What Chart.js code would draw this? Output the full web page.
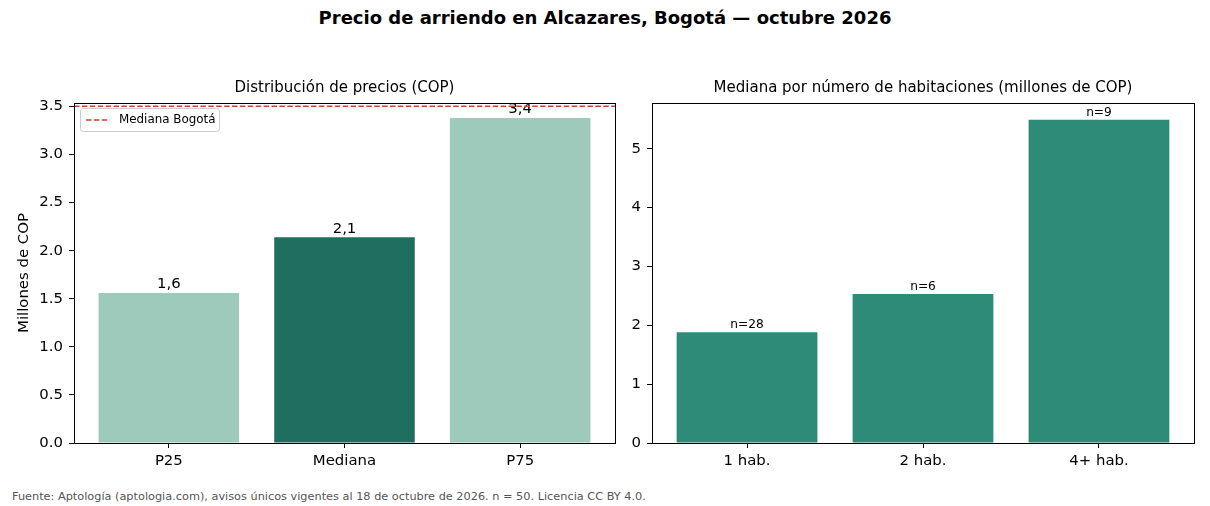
<!DOCTYPE html>
<html><head><meta charset="utf-8">
<script src="https://cdn.jsdelivr.net/npm/chart.js@4"></script>
<style>
html,body{margin:0;padding:0;background:#fff;width:1210px;height:506px;overflow:hidden;font-family:"DejaVu Sans",sans-serif;}
#title{position:absolute;left:0;top:7px;width:1210px;text-align:center;font-weight:bold;font-size:18px;color:#000;}
#foot{position:absolute;left:12px;top:490px;font-size:11.3px;color:#555;white-space:nowrap;}
canvas{position:absolute;top:0;}
#c1{left:0;}
#c2{left:620px;}
</style></head>
<body>
<div id="title">Precio de arriendo en Alcazares, Bogotá — octubre 2026</div>
<canvas id="c1" width="620" height="480"></canvas>
<canvas id="c2" width="590" height="480"></canvas>
<div id="foot">Fuente: Aptología (aptologia.com), avisos únicos vigentes al 18 de octubre de 2026. n = 50. Licencia CC BY 4.0.</div>
<script>
// ---- data ----
const pctCategories = ['P25', 'Mediana', 'P75'];
const pctValues = [1.56, 2.14, 3.38];
const pctLabels = ['1,6', '2,1', '3,4'];
const bogotaMedian = 3.5;
const bogotaLabel = 'Mediana Bogotá';
const roomCategories = ['1 hab.', '2 hab.', '4+ hab.'];
const roomMedians = [1.88, 2.53, 5.49];
const roomCounts = [28, 6, 9];

const leftTitle = 'Distribución de precios (COP)';
const rightTitle = 'Mediana por número de habitaciones (millones de COP)';
const yAxisTitle = 'Millones de COP';

// ---- styles ----
const FONT = '"DejaVu Sans", sans-serif';
const TICK = 14.9;
const lightTeal = '#9ecabc';
const darkTeal = '#1f6e5f';
const midTeal = '#2e8b77';
const redLine = '#c4463a';

Chart.defaults.font.family = FONT;
Chart.defaults.color = '#000';
Chart.defaults.animation = false;

function framePlugin(subtitle, labelFn, labelFont) {
  return {
    id: 'deco',
    afterDatasetsDraw(chart) {
      const ctx = chart.ctx;
      const meta = chart.getDatasetMeta(0);
      ctx.save();
      ctx.fillStyle = '#000';
      ctx.font = labelFont;
      ctx.textAlign = 'center';
      ctx.textBaseline = 'bottom';
      meta.data.forEach((bar, i) => {
        ctx.fillText(labelFn(i), bar.x, bar.y - 1);
      });
      ctx.restore();
    },
    afterDraw(chart) {
      const ctx = chart.ctx, a = chart.chartArea;
      ctx.save();
      ctx.strokeStyle = '#000';
      ctx.lineWidth = 1;
      ctx.strokeRect(Math.round(a.left) + 0.5, Math.round(a.top) + 0.5, Math.round(a.right - a.left), Math.round(a.bottom - a.top));
      ctx.fillStyle = '#000';
      ctx.font = '15px ' + FONT;
      ctx.textAlign = 'center';
      ctx.textBaseline = 'middle';
      ctx.fillText(subtitle, (a.left + a.right) / 2, 88);
      ctx.restore();
    }
  };
}

const medianPlugin = {
  id: 'median',
  afterDatasetsDraw(chart) {
    const ctx = chart.ctx, a = chart.chartArea;
    const y = chart.scales.y.getPixelForValue(bogotaMedian);
    ctx.save();
    ctx.strokeStyle = redLine;
    ctx.lineWidth = 1.5;
    ctx.setLineDash([5.5, 2.4]);
    ctx.beginPath();
    ctx.moveTo(a.left, y);
    ctx.lineTo(a.right, y);
    ctx.stroke();
    // legend
    const lx = a.left + 6, ly = a.top + 5, lw = 139, lh = 23;
    ctx.setLineDash([]);
    ctx.fillStyle = 'rgba(255,255,255,0.8)';
    ctx.strokeStyle = '#cccccc';
    ctx.lineWidth = 1;
    ctx.beginPath();
    ctx.roundRect(lx + 0.5, ly + 0.5, lw, lh, 3);
    ctx.fill();
    ctx.stroke();
    ctx.strokeStyle = redLine;
    ctx.lineWidth = 1.5;
    ctx.setLineDash([5.5, 2.4]);
    ctx.beginPath();
    ctx.moveTo(lx + 6, ly + 12);
    ctx.lineTo(lx + 30, ly + 12);
    ctx.stroke();
    ctx.fillStyle = '#000';
    ctx.font = '11.9px ' + FONT;
    ctx.textAlign = 'left';
    ctx.textBaseline = 'middle';
    ctx.fillText(bogotaLabel, lx + 39, ly + 12);
    ctx.restore();
  }
};

function makeChart(id, cats, values, colors, yMax, yStep, yFmt, yWidth, padRight, subtitle, labelFn, labelFont, showYTitle, extraPlugins) {
  return new Chart(document.getElementById(id), {
    type: 'bar',
    data: {
      datasets: [{
        data: values.map((v, i) => ({ x: i, y: v })),
        backgroundColor: colors,
        borderWidth: 0,
        inflateAmount: 0,
        barPercentage: 0.8,
        categoryPercentage: 1.0
      }]
    },
    options: {
      responsive: false,
      animation: false,
      layout: { padding: { top: 103, right: padRight, bottom: 0, left: 0 } },
      plugins: { legend: { display: false }, tooltip: { enabled: false }, title: { display: false } },
      scales: {
        x: {
          type: 'linear',
          min: -0.54, max: 2.54,
          offset: false,
          border: { display: false },
          grid: { display: true, offset: false, drawOnChartArea: false, drawTicks: true, tickLength: 5, color: '#000', tickWidth: 1 },
          ticks: {
            stepSize: 1, includeBounds: false, autoSkip: false, maxRotation: 0,
            padding: 4, color: '#000', font: { size: TICK, family: FONT },
            callback: (v) => cats[v] !== undefined ? cats[v] : ''
          },
          afterFit: (s) => { s.height = 37; }
        },
        y: {
          min: 0, max: yMax,
          border: { display: false },
          grid: { display: true, drawOnChartArea: false, drawTicks: true, tickLength: 5, color: '#000', tickWidth: 1 },
          ticks: {
            stepSize: yStep, includeBounds: false, padding: 6, color: '#000',
            font: { size: TICK, family: FONT },
            callback: yFmt
          },
          title: {
            display: showYTitle, text: yAxisTitle, color: '#000',
            font: { size: TICK, family: FONT }, padding: { top: 15, bottom: 0 }
          },
          afterFit: (s) => { s.width = yWidth; }
        }
      }
    },
    plugins: [framePlugin(subtitle, labelFn, labelFont)].concat(extraPlugins)
  });
}

makeChart('c1', pctCategories, pctValues, [lightTeal, darkTeal, lightTeal],
  3.535, 0.5, (v) => v.toFixed(1), 74, 5, leftTitle,
  (i) => pctLabels[i], TICK + 'px ' + FONT, true, [medianPlugin]);

makeChart('c2', roomCategories, roomMedians, [midTeal, midTeal, midTeal],
  5.775, 1, (v) => String(v), 32, 16, rightTitle,
  (i) => 'n=' + roomCounts[i], '12.2px ' + FONT, false, []);
</script>
</body></html>
